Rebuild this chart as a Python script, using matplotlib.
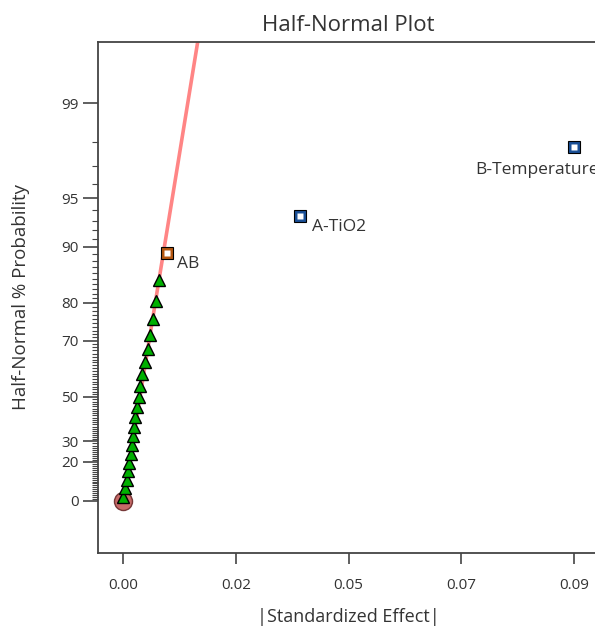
# Half-normal plot of effects
#################
import numpy as np
import matplotlib
matplotlib.use('Agg')
import matplotlib.pyplot as plt
from matplotlib.ticker import FixedLocator
from statistics import NormalDist
#################

# Values
#################
tri_effect = [0.00006, 0.00040, 0.00074, 0.00106, 0.00126, 0.00154, 0.00174,
              0.00194, 0.00220, 0.00245, 0.00285, 0.00313, 0.00339, 0.00385,
              0.00439, 0.00493, 0.00539, 0.00593, 0.00659, 0.00724]
tri_prob = [2.2, 6.5, 10.9, 15.2, 19.6, 23.9, 28.3, 32.6, 37.0, 41.3,
            45.7, 50.0, 54.3, 58.7, 63.0, 67.4, 71.7, 76.1, 80.4, 84.8]

circle_effect = [0.0]
circle_prob = [0.0]

term_names = ['AB', 'A-TiO2', 'B-Temperature']
term_effect = [0.00872, 0.0353, 0.0900]
term_prob = [89.1, 93.5, 97.8]
term_colors = ['#b5560f', '#1a4f96', '#1a4f96']
term_offsets = [(10, -11), (12, -11), (-99, -23)]

line_effect = [0.0, 0.0165]
line_prob = [0.0, 99.9]

x_ticks = [0.0, 0.0225, 0.045, 0.0675, 0.09]
x_labels = ['0.00', '0.02', '0.05', '0.07', '0.09']
y_ticks = [0, 20, 30, 50, 70, 80, 90, 95, 99]
#################

# Half-normal probability scale
#################
nd = NormalDist()


def _to_z(p):
    if not np.isfinite(p):
        return np.nan
    q = min(max(0.5 + p / 200.0, 1e-12), 1 - 1e-12)
    return nd.inv_cdf(q)


def _to_p(z):
    if not np.isfinite(z):
        return np.nan
    return (2 * nd.cdf(z) - 1) * 100


fwd = np.vectorize(_to_z, otypes=[float])
inv = np.vectorize(_to_p, otypes=[float])
#################

plt.rcParams['font.family'] = ['Open Sans', 'DejaVu Sans']
txt_col = '#333333'
spine_col = '#444444'

fig = plt.figure(figsize=(5.95, 6.32), dpi=100)
ax = fig.add_axes([98 / 595, 79 / 632, 500 / 595, 511 / 632])
ax.set_yscale('function', functions=(fwd, inv))

ax.plot(line_effect, line_prob, color='#ff8585', lw=2.6, zorder=1, solid_capstyle='butt')

ax.plot(circle_effect, circle_prob, 'o', ms=13, mfc='#bf5a58', mec='#6b2a2a',
        mew=1.0, alpha=0.9, zorder=2)
ax.plot(tri_effect, tri_prob, '^', ms=9, mfc='#00b000', mec='black', mew=1.0, zorder=3)

for name, xe, pe, c, off in zip(term_names, term_effect, term_prob, term_colors, term_offsets):
    ax.plot([xe], [pe], 's', ms=9, mfc=c, mec='black', mew=0.8, zorder=4)
    ax.plot([xe], [pe], 's', ms=4.5, mfc='white', mec='none', zorder=5)
    ax.annotate(name, (xe, pe), xytext=off, textcoords='offset pixels',
                ha='left', va='center', fontsize=12.5, color=txt_col,
                annotation_clip=False)

ax.set_xlim(-0.005, 0.0948)
ax.set_ylim(-26.4, 99.703)

ax.set_xticks(x_ticks)
ax.set_xticklabels(x_labels)
ax.yaxis.set_major_locator(FixedLocator(y_ticks))
ax.set_yticklabels([str(v) for v in y_ticks])
minor = [v for v in range(1, 99) if v not in y_ticks]
ax.yaxis.set_minor_locator(FixedLocator(minor))

ax.tick_params(axis='x', direction='out', length=8, width=1.2, colors=spine_col,
               labelcolor=txt_col, labelsize=11, pad=10)
ax.tick_params(axis='y', which='major', direction='out', length=11, width=1.2,
               colors=spine_col, labelcolor=txt_col, labelsize=11, pad=3)
ax.tick_params(axis='y', which='minor', direction='out', length=4, width=0.8,
               colors=spine_col)

for side in ['left', 'bottom', 'top']:
    ax.spines[side].set_color(spine_col)
    ax.spines[side].set_linewidth(1.3)
ax.spines['right'].set_visible(False)

ax.set_title('Half-Normal Plot', fontsize=16, color=txt_col, pad=8)
ax.set_xlabel('|Standardized Effect|', fontsize=13, color=txt_col, labelpad=11)
ax.set_ylabel('Half-Normal % Probability', fontsize=13.5, color=txt_col, labelpad=22)

plt.savefig('out.png', dpi=100)
plt.close()
